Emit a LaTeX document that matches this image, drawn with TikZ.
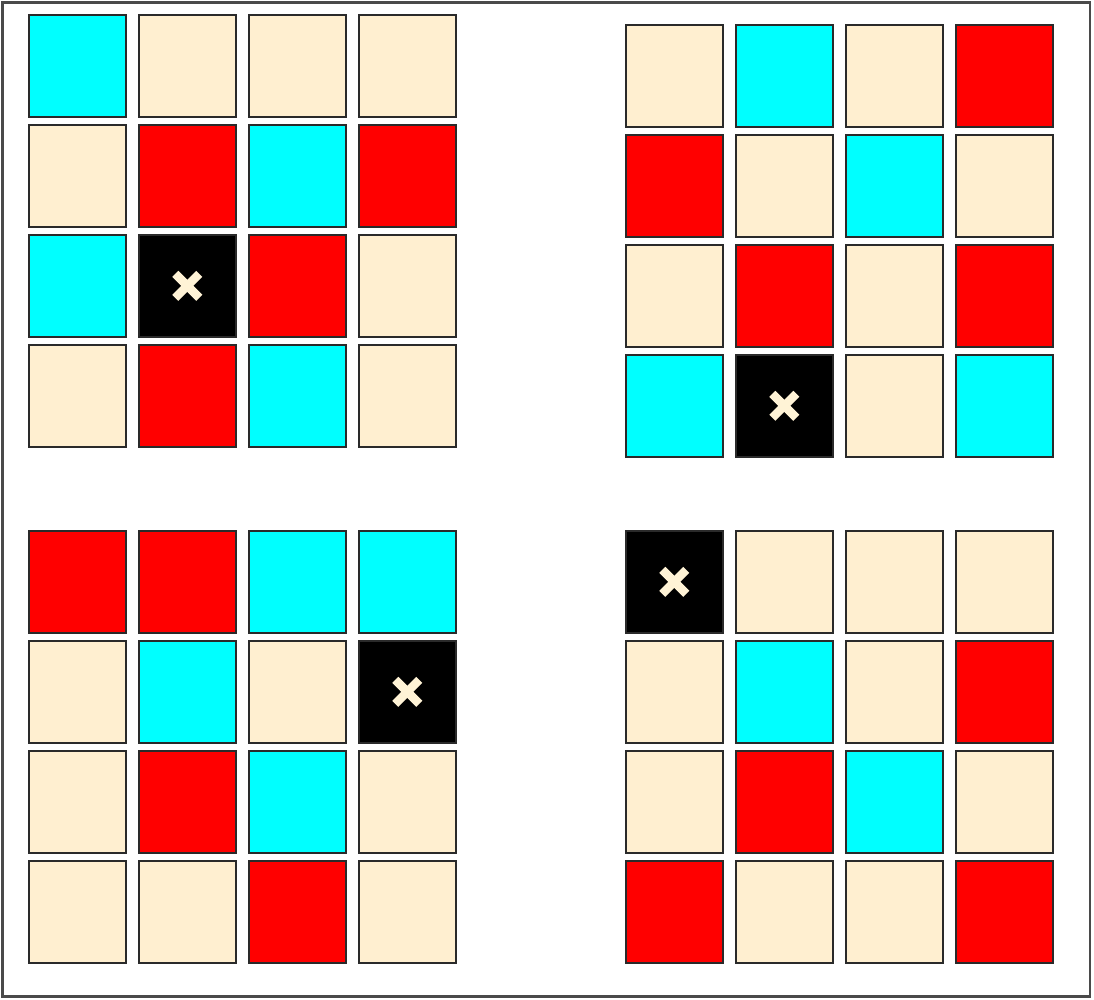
\documentclass[tikz,border=0pt]{standalone}
\usepackage{tikz}
\definecolor{cellcyan}{HTML}{00FFFF}
\definecolor{cellred}{HTML}{FF0000}
\definecolor{cellbeige}{HTML}{FFEFD0}
\definecolor{cellblack}{HTML}{000000}
\definecolor{cellline}{HTML}{2A2A2A}
\definecolor{framegray}{HTML}{4A4A4A}
\definecolor{markcream}{HTML}{FFF3D6}
\tikzset{
  cellbox/.style={draw=cellline, line width=2.2pt, minimum width=97.5pt, minimum height=101.5pt, inner sep=0pt, anchor=north west},
  markline/.style={draw=markcream, line width=8.5pt},
}
\newcommand\mygrid[4]{%
  \foreach \c [count=\i from 0] in {#4} {
    \pgfmathtruncatemacro{\r}{int(\i/4)}
    \pgfmathtruncatemacro{\q}{mod(\i,4)}
    \node[cellbox, fill=\c] (#1-\r-\q) at (#2+110*\q, #3+110*\r) {};
  }%
}
\begin{document}
\begin{tikzpicture}[x=1pt,y=-1pt]
\useasboundingbox (0,0) rectangle (1094,999);
\draw[framegray, line width=2.2pt] (2.5,2.5) rectangle (1090,996.5);
\mygrid{tl}{27.5}{14}{cellcyan,cellbeige,cellbeige,cellbeige,cellbeige,cellred,cellcyan,cellred,cellcyan,cellblack,cellred,cellbeige,cellbeige,cellred,cellcyan,cellbeige}
\mygrid{tr}{624.5}{24}{cellbeige,cellcyan,cellbeige,cellred,cellred,cellbeige,cellcyan,cellbeige,cellbeige,cellred,cellbeige,cellred,cellcyan,cellblack,cellbeige,cellcyan}
\mygrid{bl}{27.5}{530}{cellred,cellred,cellcyan,cellcyan,cellbeige,cellcyan,cellbeige,cellblack,cellbeige,cellred,cellcyan,cellbeige,cellbeige,cellbeige,cellred,cellbeige}
\mygrid{br}{624.5}{530}{cellblack,cellbeige,cellbeige,cellbeige,cellbeige,cellcyan,cellbeige,cellred,cellbeige,cellred,cellcyan,cellbeige,cellred,cellbeige,cellbeige,cellred}
% cross marks on the black cells
\foreach \m in {tl-2-1, tr-3-1, bl-1-3, br-0-0}{
  \draw[markline] ([shift={(-12,-12)}]\m.center) -- ([shift={(12,12)}]\m.center);
  \draw[markline] ([shift={(-12,12)}]\m.center) -- ([shift={(12,-12)}]\m.center);
}
\end{tikzpicture}
\end{document}
